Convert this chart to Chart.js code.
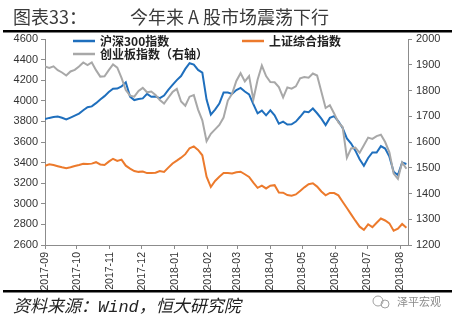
<!DOCTYPE html>
<html>
<head>
<meta charset="utf-8">
<script src="https://cdn.jsdelivr.net/npm/chart.js@4.4.0/dist/chart.umd.min.js"></script>
<style>
  html, body { margin: 0; padding: 0; background: #fff; }
</style>
</head>
<body>
<canvas id="IndexChart" width="455" height="322"></canvas>
<script>
// trading snapshots, every 4 calendar days
var dates = [
  '2017-09-01','2017-09-05','2017-09-09','2017-09-13','2017-09-17','2017-09-21','2017-09-25','2017-09-29',
  '2017-10-03','2017-10-07','2017-10-11','2017-10-15','2017-10-19','2017-10-23','2017-10-27','2017-10-31',
  '2017-11-04','2017-11-08','2017-11-12','2017-11-16','2017-11-20','2017-11-24','2017-11-28',
  '2017-12-02','2017-12-06','2017-12-10','2017-12-14','2017-12-18','2017-12-22','2017-12-26','2017-12-30',
  '2018-01-03','2018-01-07','2018-01-11','2018-01-15','2018-01-19','2018-01-23','2018-01-27','2018-01-31',
  '2018-02-04','2018-02-08','2018-02-12','2018-02-16','2018-02-20','2018-02-24','2018-02-28',
  '2018-03-04','2018-03-08','2018-03-12','2018-03-16','2018-03-20','2018-03-24','2018-03-28',
  '2018-04-01','2018-04-05','2018-04-09','2018-04-13','2018-04-17','2018-04-21','2018-04-25','2018-04-29',
  '2018-05-03','2018-05-07','2018-05-11','2018-05-15','2018-05-19','2018-05-23','2018-05-27','2018-05-31',
  '2018-06-04','2018-06-08','2018-06-12','2018-06-16','2018-06-20','2018-06-24','2018-06-28',
  '2018-07-02','2018-07-06','2018-07-10','2018-07-14','2018-07-18','2018-07-22','2018-07-26','2018-07-30',
  '2018-08-03','2018-08-07'
];

var hs300 = [
  3824,3834,3842,3847,3835,3819,3837,3856,3876,3908,
  3938,3946,3977,4013,4045,4085,4117,4119,4140,4180,
  4041,4007,4017,4023,4067,4039,4041,4026,4051,4106,
  4154,4201,4240,4310,4365,4352,4300,4274,4012,3866,
  3915,3973,4080,4080,4067,4104,4125,4090,4062,3968,
  3878,3905,3859,3907,3860,3778,3798,3770,3772,3798,
  3845,3896,3889,3925,3879,3827,3764,3834,3851,3801,
  3737,3635,3585,3516,3433,3370,3445,3498,3497,3560,
  3536,3458,3312,3278,3400,3387
];

var shComposite = [
  3370,3384,3376,3365,3354,3345,3355,3367,3377,3388,
  3387,3390,3404,3382,3376,3409,3437,3416,3429,3370,
  3341,3318,3310,3314,3298,3298,3302,3318,3309,3351,
  3392,3419,3448,3482,3539,3557,3523,3471,3263,3163,
  3222,3263,3298,3298,3295,3307,3312,3287,3261,3205,
  3155,3176,3149,3176,3181,3109,3108,3085,3079,3091,
  3125,3160,3190,3199,3167,3120,3082,3105,3104,3082,
  3020,2959,2897,2836,2778,2748,2801,2773,2816,2857,
  2838,2810,2739,2758,2804,2768
];

// right axis
var chinext = [
  1893,1888,1894,1879,1870,1858,1874,1880,1893,1909,
  1899,1909,1879,1854,1855,1879,1901,1889,1849,1802,
  1780,1776,1798,1810,1793,1796,1783,1763,1749,1772,
  1794,1806,1757,1741,1776,1782,1726,1684,1603,1632,
  1649,1666,1695,1761,1787,1837,1867,1835,1856,1765,
  1842,1897,1856,1833,1832,1813,1773,1812,1807,1816,
  1847,1852,1850,1866,1858,1795,1732,1743,1711,1676,
  1658,1539,1575,1578,1558,1587,1617,1612,1623,1628,
  1600,1560,1477,1457,1521,1496
];

var monthLabels = ['2017-09','2017-10','2017-11','2017-12','2018-01','2018-02',
                   '2018-03','2018-04','2018-05','2018-06','2018-07','2018-08'];

var seriesNames = ['沪深300指数', '上证综合指数', '创业板指数（右轴）'];
var seriesColors = ['#1f6fbd', '#ec7a2c', '#a8a8a8'];

var axisColor = '#8c8c8c';
var tickFont = { family: '"Liberation Sans", Arial, sans-serif', size: 11 };

function dayOf(s) {
  var p = s.split('-');
  return (Date.UTC(+p[0], +p[1] - 1, +p[2]) - Date.UTC(2017, 8, 1)) / 86400000;
}

function points(values) {
  return dates.map(function (d, i) { return { x: dayOf(d), y: values[i] }; });
}

function plain(v) { return String(v); }

// title, rules, legend and source line
var decorations = {
  id: 'decorations',
  afterDraw: function (chart) {
    var ctx = chart.ctx;
    ctx.save();

    ctx.fillStyle = '#3a3a3a';
    ctx.textBaseline = 'middle';
    ctx.font = '18px "Noto Sans CJK SC", sans-serif';
    ctx.fillText('图表33：', 13, 17);
    ctx.fillText('今年来 A 股市场震荡下行', 130, 17);

    ctx.fillStyle = '#000';
    ctx.fillRect(3, 30, 449, 2.5);
    ctx.fillRect(3, 290, 449, 2.5);

    // legend
    var items = [
      { x: 73, y: 41, i: 0 },
      { x: 242, y: 41, i: 1 },
      { x: 73, y: 54, i: 2 }
    ];
    items.forEach(function (it) {
      ctx.strokeStyle = seriesColors[it.i];
      ctx.lineWidth = 2.5;
      ctx.beginPath();
      ctx.moveTo(it.x, it.y);
      ctx.lineTo(it.x + 22, it.y);
      ctx.stroke();
      ctx.fillStyle = '#222';
      ctx.font = 'bold 12px "Noto Sans CJK SC", sans-serif';
      ctx.fillText(seriesNames[it.i], it.x + 27, it.y);
    });

    // source
    ctx.fillStyle = '#222';
    ctx.font = 'italic 17px "Liberation Mono", "Noto Sans CJK SC", monospace';
    ctx.fillText('资料来源：Wind，恒大研究院', 13, 307);

    // account mark
    ctx.strokeStyle = '#a0a0a0';
    ctx.lineWidth = 1;
    ctx.beginPath();
    ctx.arc(378, 301, 5, 0, Math.PI * 2);
    ctx.stroke();
    ctx.beginPath();
    ctx.arc(385, 304, 4, 0, Math.PI * 2);
    ctx.stroke();
    ctx.fillStyle = '#8a8a8a';
    ctx.font = '11px "Noto Sans CJK SC", sans-serif';
    ctx.fillText('泽平宏观', 397, 302);

    ctx.restore();
  }
};

new Chart('IndexChart', {
  type: 'line',
  data: {
    datasets: [{
      label: seriesNames[2],
      data: points(chinext),
      borderColor: seriesColors[2],
      yAxisID: 'y1',
      order: 0
    }, {
      label: seriesNames[0],
      data: points(hs300),
      borderColor: seriesColors[0],
      yAxisID: 'y',
      order: 1
    }, {
      label: seriesNames[1],
      data: points(shComposite),
      borderColor: seriesColors[1],
      yAxisID: 'y',
      order: 2
    }]
  },
  options: {
    responsive: false,
    animation: false,
    layout: { padding: { top: 39, left: 0, right: 0, bottom: 0 } },
    elements: {
      point: { radius: 0 },
      line: { borderWidth: 2, tension: 0, fill: false }
    },
    plugins: {
      legend: { display: false },
      tooltip: { enabled: false }
    },
    scales: {
      x: {
        type: 'linear',
        min: 0,
        max: 341.5,
        afterBuildTicks: function (scale) {
          scale.ticks = monthLabels.map(function (m) { return { value: dayOf(m + '-01') }; });
        },
        afterFit: function (scale) { scale.height = 77; },
        grid: { drawOnChartArea: false, drawTicks: true, tickLength: 4, color: axisColor },
        border: { color: axisColor },
        ticks: {
          autoSkip: false,
          minRotation: 90,
          maxRotation: 90,
          padding: 3,
          color: '#333',
          font: { family: tickFont.family, size: 10.5 },
          callback: function (v, i) { return monthLabels[i]; }
        }
      },
      y: {
        position: 'left',
        min: 2600,
        max: 4600,
        afterFit: function (scale) { scale.width = 45; },
        grid: { drawOnChartArea: false, drawTicks: true, tickLength: 4, color: axisColor },
        border: { color: axisColor },
        ticks: { stepSize: 200, padding: 3, color: '#333', font: tickFont, callback: plain }
      },
      y1: {
        position: 'right',
        min: 1200,
        max: 2000,
        afterFit: function (scale) { scale.width = 47; },
        grid: { drawOnChartArea: false, drawTicks: true, tickLength: 4, color: axisColor },
        border: { color: axisColor },
        ticks: { stepSize: 100, padding: 4, color: '#333', font: tickFont, callback: plain }
      }
    }
  },
  plugins: [decorations]
});
</script>
</body>
</html>
